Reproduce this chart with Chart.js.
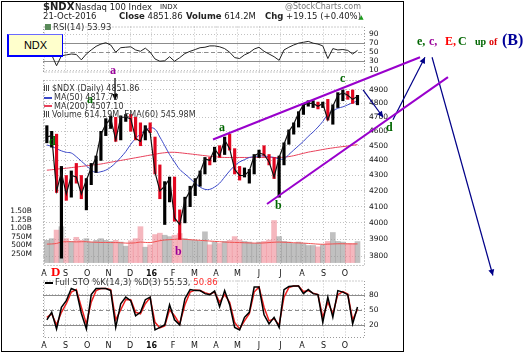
<!DOCTYPE html>
<html>
<head>
<meta charset="utf-8">
<script src="https://cdn.jsdelivr.net/npm/chart.js@4.4.1/dist/chart.umd.min.js"></script>
<style>
  body { margin: 0; background: #fff; }
  #wrap { position: relative; width: 528px; height: 353px; overflow: hidden; font-family: "DejaVu Sans", sans-serif; color: #222; }
  canvas { position: absolute; }
  .t { position: absolute; white-space: nowrap; line-height: 1; }
  .lg { position: absolute; white-space: nowrap; line-height: 1; font-size: 8px; color: #333; }
  .dash { display: inline-block; width: 8px; height: 2px; vertical-align: middle; margin-right: 2px; }
  .ic { display: inline-block; width: 6px; height: 6px; margin-right: 2px; vertical-align: baseline;
        background: repeating-linear-gradient(90deg, #444 0 1px, #fff 1px 2px); }
  .lbl { position: absolute; font-family: "Liberation Serif", serif; font-weight: bold; font-size: 12px; line-height: 1; }
  #frame { position: absolute; left: 1px; top: 1px; width: 401px; height: 349px; border: 1px solid #000; }
  #ndx { position: absolute; left: 7px; top: 34px; width: 53px; height: 20px; background: #ffffcc;
         border-top: 1px solid #6a6aff; border-right: 1px solid #0000ff; border-left: 2px solid #0000ff; border-bottom: 2px solid #0000ff;
         font-family: "Liberation Sans", sans-serif; font-size: 11px; text-align: center; line-height: 20px; color: #000; }
</style>
</head>
<body>
<div id="wrap">
  <div id="frame"></div>
  <canvas id="rsi" width="367" height="63" style="left:33px;top:18px"></canvas>
  <canvas id="sto" width="367" height="79" style="left:33px;top:272px"></canvas>
  <canvas id="price" width="528" height="353" style="left:0;top:0"></canvas>

  <div class="t" style="left:43px;top:2px;font-size:10px;font-weight:bold">$NDX</div>
  <div class="t" style="left:75px;top:3px;font-size:8.5px">Nasdaq 100 Index</div>
  <div class="t" style="left:160px;top:4px;font-size:7px">INDX</div>
  <div class="t" style="left:43px;top:12px;font-size:8.5px">21-Oct-2016</div>
  <div class="t" style="left:119px;top:12px;font-size:8.5px"><b>Close</b> 4851.86</div>
  <div class="t" style="left:186px;top:12px;font-size:8.5px"><b>Volume</b> 614.2M</div>
  <div class="t" style="left:265px;top:12px;font-size:8.5px"><b>Chg</b> +19.15 (+0.40%)</div>
  <div class="t" style="left:359px;top:14px;font-size:6px;color:#1a9a1a">&#9650;</div>
  <div class="t" style="left:285px;top:3px;font-size:8px;color:#777">@StockCharts.com</div>

  <div class="lg" style="left:45px;top:23px;font-size:8.5px"><span class="ic" style="background:#5a8a5a"></span>RSI(14) 53.93</div>
  <div class="lg" style="left:44px;top:85px"><span class="ic"></span>$NDX (Daily) 4851.86</div>
  <div class="lg" style="left:44px;top:94px"><span class="dash" style="background:#3b48c8"></span>MA(50) 4817.70</div>
  <div class="lg" style="left:44px;top:102.5px"><span class="dash" style="background:#e8405a"></span>MA(200) 4507.10</div>
  <div class="lg" style="left:44px;top:111px"><span class="ic"></span>Volume 614.19M, EMA(60) 545.98M</div>
  <div class="lg" style="left:45px;top:278px;font-size:8.5px"><span class="dash" style="background:#000"></span>Full STO %K(14,3) %D(3) 55.53, <span style="color:#ff3030">50.86</span></div>

  <div id="ndx">NDX</div>

  <div class="lbl" style="left:110px;top:64px;color:#990099">a</div>
  <div class="lbl" style="left:87px;top:93px;color:#006600">a</div>
  <div class="lbl" style="left:49px;top:135px;color:#006600">d</div>
  <div class="lbl" style="left:219px;top:121px;color:#006600">a</div>
  <div class="lbl" style="left:340px;top:72px;color:#006600">c</div>
  <div class="lbl" style="left:275px;top:199px;color:#006600">b</div>
  <div class="lbl" style="left:175px;top:245px;color:#990099">b</div>
  <div class="lbl" style="left:51px;top:265px;color:#ff0000;font-size:13px">D</div>
  <div class="lbl" style="left:386px;top:121px;color:#006600">d</div>

  <div class="lbl" style="left:417px;top:35px;color:#006600">e,</div>
  <div class="lbl" style="left:429px;top:35px;color:#990099">c,</div>
  <div class="lbl" style="left:445px;top:35px;color:#ff0000">E,</div>
  <div class="lbl" style="left:458px;top:35px;color:#006600">C</div>
  <div class="lbl" style="left:475px;top:37px;color:#006600;font-size:10px">up</div>
  <div class="lbl" style="left:489px;top:37px;color:#dd0000;font-size:10px">of</div>
  <div class="lbl" style="left:502px;top:32px;color:#000099;font-size:16px">(B)</div>
</div>

<script>
// week ending dates (Fridays)
const weekEnds = [
  '2015-08-07','2015-08-14','2015-08-21','2015-08-28','2015-09-04','2015-09-11','2015-09-18','2015-09-25',
  '2015-10-02','2015-10-09','2015-10-16','2015-10-23','2015-10-30','2015-11-06','2015-11-13','2015-11-20',
  '2015-11-27','2015-12-04','2015-12-11','2015-12-18','2015-12-25','2016-01-01','2016-01-08','2016-01-15',
  '2016-01-22','2016-01-29','2016-02-05','2016-02-12','2016-02-19','2016-02-26','2016-03-04','2016-03-11',
  '2016-03-18','2016-03-25','2016-04-01','2016-04-08','2016-04-15','2016-04-22','2016-04-29','2016-05-06',
  '2016-05-13','2016-05-20','2016-05-27','2016-06-03','2016-06-10','2016-06-17','2016-06-24','2016-07-01',
  '2016-07-08','2016-07-15','2016-07-22','2016-07-29','2016-08-05','2016-08-12','2016-08-19','2016-08-26',
  '2016-09-02','2016-09-09','2016-09-16','2016-09-23','2016-09-30','2016-10-07','2016-10-14','2016-10-21'
];
const monthLabels = ['A','S','O','N','D','16','F','M','A','M','J','J','A','S','O'];

const priceClose = [4560,4570,4200,4320,4180,4300,4290,4180,4270,4350,4420,4580,4650,4690,4540,4700,
  4700,4690,4550,4530,4630,4590,4320,4200,4230,4280,4030,3990,4140,4200,4260,4320,
  4410,4400,4480,4430,4540,4480,4340,4300,4300,4330,4430,4450,4440,4390,4290,4420,
  4510,4600,4650,4730,4790,4800,4800,4780,4800,4680,4780,4860,4880,4860,4830,4851.86];
const priceHigh = [4640,4600,4580,4360,4300,4330,4380,4300,4280,4380,4430,4600,4690,4710,4700,4710,
  4720,4720,4700,4660,4640,4660,4560,4370,4260,4290,4290,4080,4160,4230,4280,4330,
  4420,4420,4490,4500,4560,4580,4480,4360,4350,4340,4440,4470,4500,4440,4420,4430,
  4520,4610,4660,4740,4800,4820,4820,4810,4810,4830,4790,4880,4900,4890,4900,4860];
const priceLow = [4520,4490,4190,3790,4140,4160,4250,4150,4080,4240,4320,4400,4570,4620,4530,4540,
  4670,4600,4540,4500,4540,4590,4310,4150,3990,4130,4010,3900,4000,4100,4170,4230,
  4310,4370,4390,4420,4440,4470,4310,4270,4290,4250,4310,4420,4430,4370,4280,4160,
  4370,4510,4580,4630,4720,4780,4770,4760,4770,4680,4650,4770,4820,4830,4800,4790];
const ma50 = [4505,4495,4480,4465,4455,4450,4425,4395,4365,4335,4320,4325,4335,4355,4385,4420,
  4460,4510,4550,4580,4605,4625,4615,4560,4500,4440,4390,4340,4310,4280,4250,4225,
  4210,4210,4225,4250,4290,4330,4365,4390,4405,4420,4425,4430,4430,4425,4420,4410,
  4410,4440,4470,4500,4530,4565,4595,4630,4670,4720,4745,4765,4775,4790,4805,4817.7];
const ma200 = [4335,4338,4342,4345,4348,4352,4356,4360,4364,4368,4372,4376,4382,4388,4394,4400,
  4406,4412,4418,4424,4430,4436,4442,4448,4452,4455,4455,4452,4448,4444,4440,4436,
  4432,4428,4425,4422,4420,4420,4420,4420,4420,4420,4420,4420,4420,4420,4420,4420,
  4422,4426,4432,4440,4448,4456,4462,4468,4474,4480,4485,4490,4494,4498,4503,4507.1];
const volumeM = [650,700,950,1050,700,620,740,650,700,600,650,700,650,620,650,600,
  480,640,700,1050,450,520,820,860,800,760,800,850,700,660,650,620,
  900,520,600,560,620,650,760,660,620,600,560,600,620,660,1230,760,
  620,600,560,600,560,500,500,460,520,620,880,620,600,560,560,614];
const volumeEma = [540,545,560,600,610,610,605,610,610,600,595,590,590,585,585,580,
  570,570,580,600,590,585,610,640,660,670,680,690,680,670,660,650,
  640,630,620,610,600,595,590,585,580,575,570,570,575,585,595,600,
  595,590,580,575,570,560,550,540,535,540,545,550,550,548,546,546];
const rsi14 = [52,44,20,42,44,46,45,33,46,55,63,68,71,66,50,60,
  61,62,55,52,59,50,35,30,31,40,30,38,47,52,56,60,
  61,64,64,62,58,50,38,36,44,49,57,61,52,46,40,32,
  55,61,66,70,72,74,70,68,64,36,58,55,56,54,46,53.93];
const stoK = [30,45,12,55,68,92,88,43,12,80,92,92,92,88,15,62,
  75,68,38,45,70,75,10,15,20,60,30,20,72,90,88,88,
  82,80,87,56,88,60,15,10,35,45,95,95,40,22,35,15,
  90,96,97,97,82,90,82,80,25,75,35,88,85,80,22,55.53];
const stoD = [35,42,20,45,62,85,90,55,22,65,88,92,92,90,30,50,
  70,70,45,42,62,74,25,14,18,50,38,22,60,85,89,88,
  84,81,85,65,80,65,25,12,28,42,85,95,55,28,32,20,
  75,94,97,97,86,88,83,80,35,65,42,80,86,81,30,50.86];

const priceTicks = [3800,3900,4000,4100,4200,4300,4400,4500,4600,4700,4800,4900];
const volTicks = [250,500,750,1000,1250,1500];
const rsiTicks = [10,30,50,70,90];
const stoTicks = [20,50,80];
const rsiLevels = [70,50,30];
const stoLevels = [80,50,20];

// drawn annotations, in (month, price) units: [x1, y1, x2, y2]
const trendLines = [[7.86,4543,17.49,5151],[10.37,4117,18.79,4997]];
const blueArrows = [[14.84,4900,15.77,4700],[16.23,4682,17.72,5151],[18.05,5151,20.88,3691]];
const blackArrows = [[3.30,4990,3.30,4826]];

const X_MIN = -0.05, X_MAX = 14.93;
Chart.defaults.font.family = 'DejaVu Sans';
Chart.defaults.color = '#222';

function monthPos(s) {
  const [y, mo, d] = s.split('-').map(Number);
  const days = new Date(y, mo, 0).getDate();
  return (y - 2015) * 12 + (mo - 8) + (d - 3) / days;
}
const xs = weekEnds.map(monthPos);
const pts = arr => arr.map((v, i) => ({x: xs[i], y: v}));
const upWeek = priceClose.map((c, i) => i === 0 || c >= priceClose[i - 1]);

function xAxis(showLabels) {
  return {
    type: 'linear', bounds: 'data', offset: false,
    afterDataLimits: s => { s.min = X_MIN; s.max = X_MAX; },
    afterBuildTicks: s => { s.ticks = monthLabels.map((_, i) => ({value: i})); },
    afterFit: s => { s.height = showLabels ? 13 : 0; },
    grid: {color: '#c2c2c2', drawTicks: false, offset: false},
    border: {display: false, dash: [1, 2]},
    ticks: {
      display: showLabels, padding: 3, maxRotation: 0, autoSkip: false, color: '#111',
      callback: v => monthLabels[v],
      font: c => ({family: 'DejaVu Sans', size: 8, weight: monthLabels[c.index] === '16' ? 'bold' : 'normal'})
    }
  };
}
function rightAxis(min, max, ticks) {
  return {
    position: 'right', min, max, bounds: 'data',
    afterBuildTicks: s => { s.ticks = ticks.map(v => ({value: v})); },
    afterFit: s => { s.width = 35; },
    grid: {color: '#c2c2c2', drawTicks: false},
    border: {display: false, dash: [1, 2]},
    ticks: {padding: 4, color: '#111', font: {size: 7.5}, callback: v => String(v)}
  };
}

const panelPlugin = {
  id: 'panel',
  beforeDatasetsDraw(chart, args, opts) {
    const {ctx, chartArea: a} = chart;
    const ys = chart.scales.y;
    ctx.save();
    ctx.lineWidth = 1;
    (opts.levels || []).forEach(lv => {
      const y = Math.round(ys.getPixelForValue(lv)) + 0.5;
      ctx.strokeStyle = '#8c8c8c';
      ctx.setLineDash(lv === 50 ? [4, 3] : []);
      ctx.beginPath(); ctx.moveTo(a.left, y); ctx.lineTo(a.right, y); ctx.stroke();
    });
    ctx.setLineDash([1, 2]);
    ctx.strokeStyle = '#999';
    ctx.strokeRect(a.left + 0.5, a.top + 0.5, a.width - 1, a.height - 1);
    ctx.restore();
  },
  afterDatasetsDraw(chart) {
    const ctx = chart.ctx;
    chart.data.datasets.forEach((ds, i) => {
      if (!ds.arrowHead) return;
      const p = chart.getDatasetMeta(i).data;
      const a = p[p.length - 2], b = p[p.length - 1];
      const ang = Math.atan2(b.y - a.y, b.x - a.x);
      const c = Math.cos(ang), s = Math.sin(ang);
      ctx.save();
      ctx.fillStyle = ds.borderColor;
      ctx.beginPath();
      ctx.moveTo(b.x, b.y);
      ctx.lineTo(b.x - 6 * c + 3 * s, b.y - 6 * s - 3 * c);
      ctx.lineTo(b.x - 6 * c - 3 * s, b.y - 6 * s + 3 * c);
      ctx.closePath();
      ctx.fill();
      ctx.restore();
    });
  }
};

const segment = (seg, color, width, arrow) => ({
  type: 'line', data: [{x: seg[0], y: seg[1]}, {x: seg[2], y: seg[3]}],
  borderColor: color, borderWidth: width, pointRadius: 0, clip: false, order: 0, arrowHead: arrow
});

// price + volume panel
new Chart(document.getElementById('price'), {
  type: 'bar',
  data: {
    datasets: [
      ...trendLines.map(s => segment(s, '#9900cc', 2, false)),
      ...blueArrows.map(s => segment(s, '#000088', 1.2, true)),
      ...blackArrows.map(s => segment(s, '#000000', 1.2, true)),
      {type: 'line', data: pts(priceClose), borderColor: '#111', borderWidth: 1.2, pointRadius: 0, order: 1},
      {data: xs.map((x, i) => ({x, y: [priceLow[i], priceHigh[i]]})),
       backgroundColor: upWeek.map(u => u ? '#000' : '#e2061f'), barThickness: 2.5, grouped: false, order: 2},
      {type: 'line', data: pts(ma50), borderColor: '#3b48c8', borderWidth: 1, pointRadius: 0, tension: 0.4, order: 3},
      {type: 'line', data: pts(ma200), borderColor: '#e8405a', borderWidth: 1, pointRadius: 0, tension: 0.4, order: 3},
      {type: 'line', yAxisID: 'vol', data: pts(volumeEma), borderColor: '#f05050', borderWidth: 1, pointRadius: 0, tension: 0.4, order: 4},
      {yAxisID: 'vol', data: pts(volumeM), barThickness: 5, grouped: false, order: 5,
       backgroundColor: upWeek.map(u => u ? 'rgba(150,150,150,0.6)' : 'rgba(238,135,146,0.6)')}
    ]
  },
  options: {
    responsive: false, animation: false,
    layout: {padding: {left: 0, right: 128, top: 80, bottom: 74}},
    plugins: {legend: {display: false}, tooltip: {enabled: false}, panel: {levels: []}},
    scales: {
      x: xAxis(true),
      y: Object.assign(rightAxis(3745, 4975, priceTicks), {type: 'logarithmic'}),
      vol: {
        type: 'linear', position: 'left', min: -100, max: 5340, bounds: 'data',
        afterBuildTicks: s => { s.ticks = volTicks.map(v => ({value: v})); },
        afterFit: s => { s.width = 43; },
        grid: {display: false}, border: {display: false},
        ticks: {padding: 3, color: '#111', font: {size: 7.5},
          callback: v => v >= 1000 ? (v / 1000).toFixed(2) + 'B' : v + 'M'}
      }
    }
  },
  plugins: [panelPlugin]
});

// RSI panel
new Chart(document.getElementById('rsi'), {
  type: 'line',
  data: {datasets: [{data: pts(rsi14), borderColor: '#222', borderWidth: 1, pointRadius: 0}]},
  options: {
    responsive: false, animation: false,
    layout: {padding: {left: 10, right: 0, top: 5, bottom: 5}},
    plugins: {legend: {display: false}, tooltip: {enabled: false}, panel: {levels: rsiLevels}},
    scales: {x: xAxis(false), y: rightAxis(5, 107, rsiTicks)}
  },
  plugins: [panelPlugin]
});

// Full stochastics panel
new Chart(document.getElementById('sto'), {
  type: 'line',
  data: {datasets: [
    {data: pts(stoK), borderColor: '#000', borderWidth: 1.5, pointRadius: 0, order: 0},
    {data: pts(stoD), borderColor: '#ee2020', borderWidth: 1.5, pointRadius: 0, order: 1}
  ]},
  options: {
    responsive: false, animation: false,
    layout: {padding: {left: 10, right: 0, top: 5, bottom: 0}},
    plugins: {legend: {display: false}, tooltip: {enabled: false}, panel: {levels: stoLevels}},
    scales: {x: xAxis(true), y: rightAxis(-6, 108, stoTicks)}
  },
  plugins: [panelPlugin]
});
</script>
</body>
</html>
